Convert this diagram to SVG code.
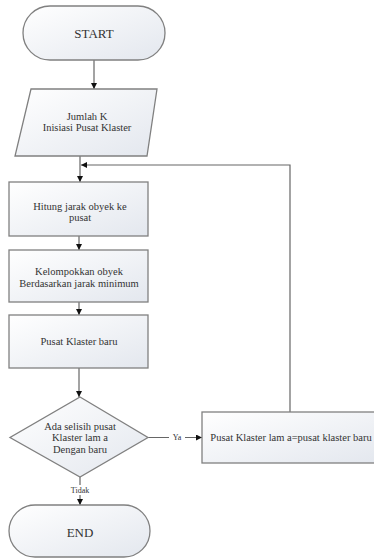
<svg xmlns="http://www.w3.org/2000/svg" width="374" height="559" viewBox="0 0 374 559">
<defs>
<linearGradient id="g" x1="0" y1="0" x2="1" y2="1">
<stop offset="0" stop-color="#ffffff"/>
<stop offset="1" stop-color="#e3e7ee"/>
</linearGradient>
<marker id="arr" viewBox="0 0 10 10" refX="10" refY="5" markerWidth="6" markerHeight="6" markerUnits="userSpaceOnUse" orient="auto">
<path d="M0,0 L10,5 L0,10 z" fill="#111"/>
</marker>
<style>
.s{fill:url(#g);stroke:#808080;stroke-width:1.3}
.t{font-family:"Liberation Serif","Times New Roman",serif;font-size:10.5px;fill:#333;text-anchor:middle;dominant-baseline:central}
.big{font-size:13px}
.sm{font-size:8px}
.c{fill:none;stroke:#666;stroke-width:1.2;marker-end:url(#arr)}
.n{fill:none;stroke:#666;stroke-width:1.2}
</style>
</defs>
<rect width="374" height="559" fill="#fff"/>
<g id="connectors">
<line class="c" x1="94" y1="60" x2="94" y2="89"/>
<line class="c" x1="80" y1="156" x2="80" y2="182"/>
<line class="c" x1="79" y1="236" x2="79" y2="250"/>
<line class="c" x1="79" y1="302" x2="79" y2="315"/>
<line class="c" x1="79" y1="368" x2="79" y2="397"/>
<line class="c" x1="80" y1="477" x2="80" y2="505"/>
<line class="c" x1="148" y1="437.5" x2="202" y2="437.5"/>
<polyline class="c" points="290,412 290,165 81,165"/>
<rect x="68" y="485" width="24" height="10" fill="#fff"/>
<text class="t sm" x="80" y="490">Tidak</text>
<rect x="169" y="432" width="16" height="11" fill="#fff"/>
<text class="t sm" x="177" y="437.5">Ya</text>
</g>
<g id="start">
<rect class="s" x="23" y="6" width="142" height="54" rx="27"/>
<text class="t big" x="94" y="33">START</text>
</g>
<g id="input">
<polygon class="s" points="31,89 157,89 147,156 15,156"/>
<text class="t" x="87" y="116">Jumlah K</text>
<text class="t" x="87" y="127">Inisiasi Pusat Klaster</text>
</g>
<g id="hitung">
<rect class="s" x="9" y="182" width="139" height="54"/>
<text class="t" x="80" y="206">Hitung jarak obyek ke</text>
<text class="t" x="80" y="217">pusat</text>
</g>
<g id="kelompok">
<rect class="s" x="9" y="250" width="139" height="52"/>
<text class="t" x="79" y="271">Kelompokkan obyek</text>
<text class="t" x="79" y="283">Berdasarkan jarak minimum</text>
</g>
<g id="pusatbaru">
<rect class="s" x="9" y="315" width="139" height="53"/>
<text class="t" x="79" y="341">Pusat Klaster baru</text>
</g>
<g id="decision">
<polygon class="s" points="80,397 148,437.5 80,477 10,437.5"/>
<text class="t" x="80" y="426">Ada selisih pusat</text>
<text class="t" x="80" y="437.5">Klaster lam a</text>
<text class="t" x="80" y="449">Dengan baru</text>
</g>
<g id="update">
<rect class="s" x="202" y="412" width="180" height="51"/>
<text class="t" x="291" y="437">Pusat Klaster lam a=pusat klaster baru</text>
</g>
<g id="end">
<rect class="s" x="9" y="505" width="141" height="52" rx="26"/>
<text class="t big" x="80" y="532">END</text>
</g>
</svg>
